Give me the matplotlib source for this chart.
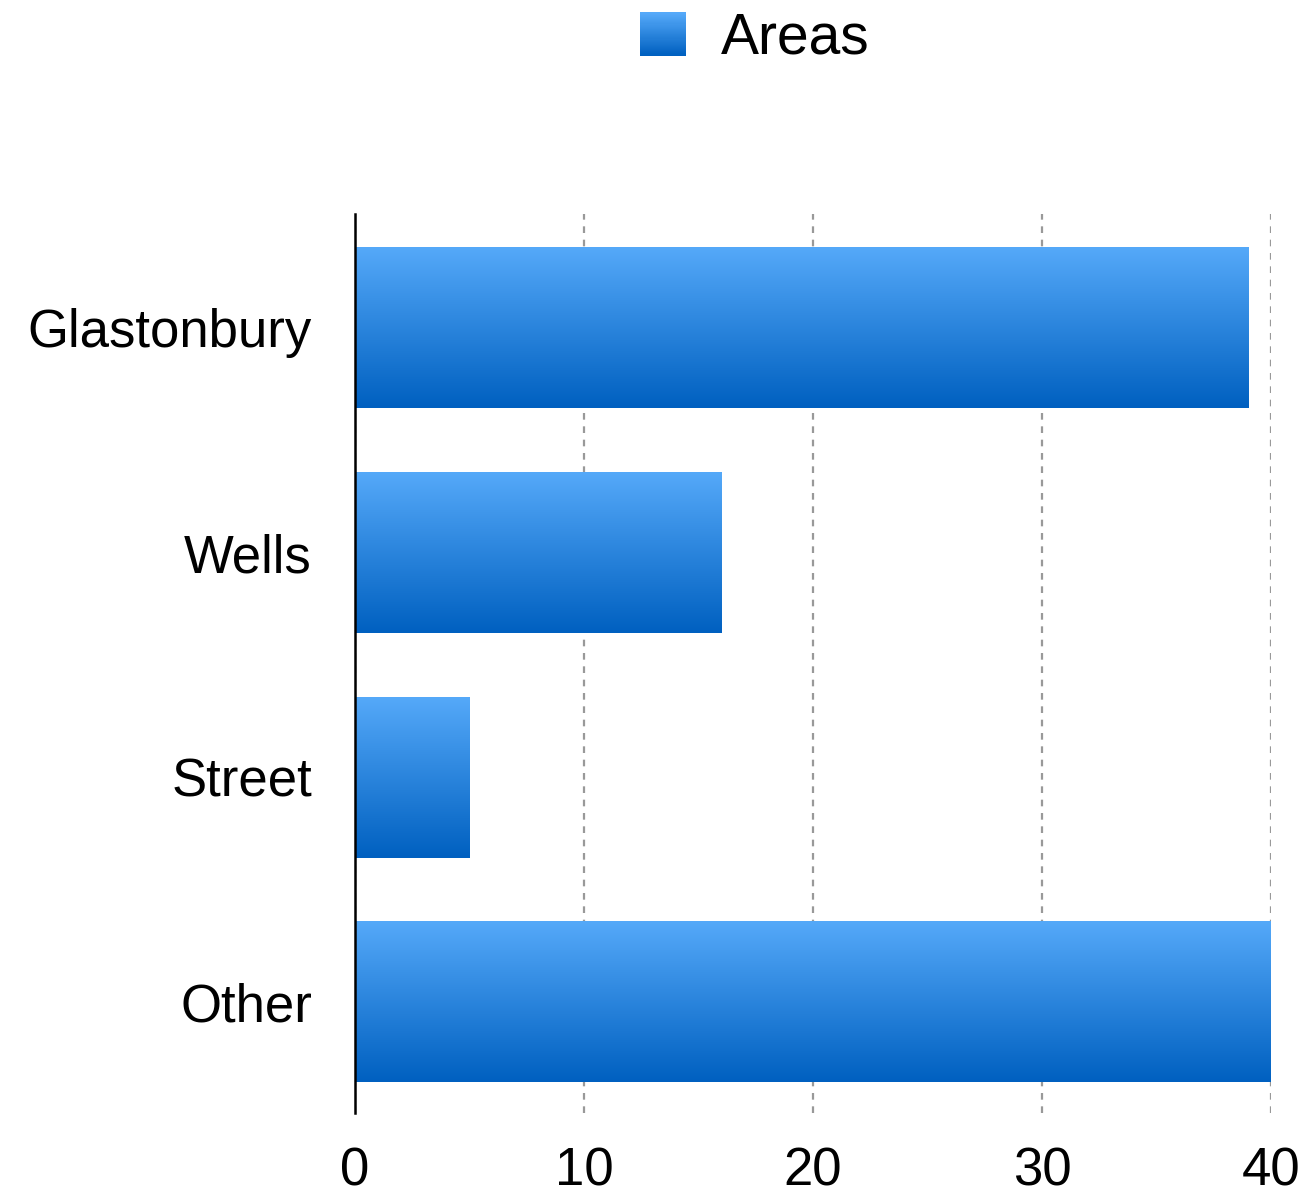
import numpy as np
import matplotlib
matplotlib.use("Agg")
import matplotlib.pyplot as plt
from matplotlib.patches import Rectangle
from matplotlib.legend_handler import HandlerBase
from matplotlib.colors import LinearSegmentedColormap

categories = ["Glastonbury", "Wells", "Street", "Other"]
values = [39, 16, 5, 40]
series_name = "Areas"
x_ticks = [0, 10, 20, 30, 40]

top_color = "#55a9f9"
bottom_color = "#0060c0"
cmap = LinearSegmentedColormap.from_list("grad", [bottom_color, top_color])

plt.rcParams['font.family'] = ['Liberation Sans', 'DejaVu Sans']

fig = plt.figure(figsize=(13.10, 11.95), dpi=100)
ax = fig.add_axes([355/1310, 1 - 1113/1195, (1271-355)/1310, (1113-214)/1195])

ypos = np.arange(len(categories))
bars = ax.barh(ypos, values, height=0.714, color="none", edgecolor="none", zorder=3)
grad = np.linspace(1, 0, 256).reshape(-1, 1)
for b in bars:
    x0, y0, w, h = b.get_x(), b.get_y(), b.get_width(), b.get_height()
    # inverted y-axis: visual top of bar is y0
    ax.imshow(grad, cmap=cmap, aspect='auto', origin='upper',
              extent=[x0, x0 + w, y0 + h, y0], zorder=3, interpolation='bilinear')

ax.set_xlim(0, 40)
ax.set_ylim(len(categories) - 0.507, -0.507)
ax.set_yticks(ypos)
ax.set_yticklabels(categories)
ax.set_xticks(x_ticks)
ax.set_xticklabels([str(t) for t in x_ticks])
ax.tick_params(axis='both', length=0, labelsize=38)
ax.tick_params(axis='y', pad=31)
ax.tick_params(axis='x', pad=24)

for s in ["top", "right", "bottom"]:
    ax.spines[s].set_visible(False)
ax.spines["left"].set_linewidth(1.8)
ax.spines["left"].set_color("black")
ax.spines["left"].set_zorder(5)

ax.xaxis.grid(True, linestyle=(0, (3, 3)), color="#999999", linewidth=1.6, zorder=1)
ax.set_axisbelow(True)


class GradientHandler(HandlerBase):
    def create_artists(self, legend, orig_handle, xdescent, ydescent,
                       width, height, fontsize, trans):
        n = 40
        arts = []
        for i in range(n):
            c = cmap(i / (n - 1))
            r = Rectangle((-xdescent, -ydescent + height * i / n), width, height / n + 0.3,
                          facecolor=c, edgecolor='none', transform=trans)
            arts.append(r)
        return arts


proxy = Rectangle((0, 0), 1, 1)
leg = fig.legend([proxy], [series_name], handler_map={Rectangle: GradientHandler()},
                 loc='upper left', bbox_to_anchor=(640/1310, 1 - 12/1195),
                 frameon=False, fontsize=41, handlelength=0.8, handleheight=0.78,
                 handletextpad=0.62, borderpad=0, borderaxespad=0)

fig.savefig("out.png", dpi=100)
